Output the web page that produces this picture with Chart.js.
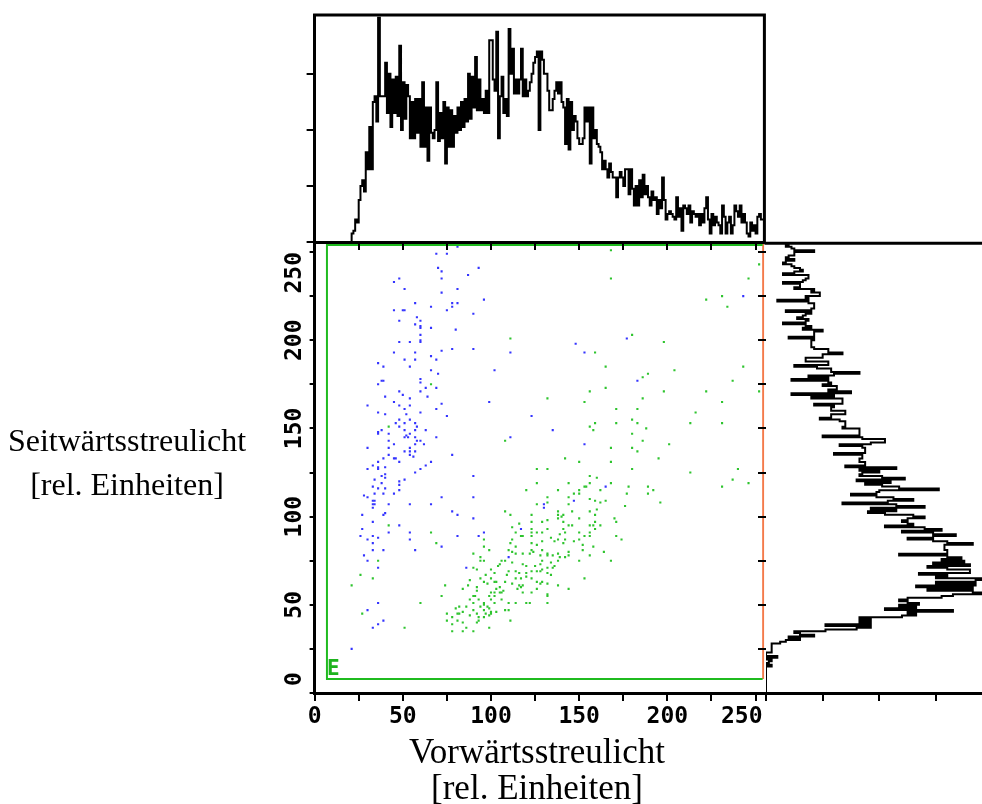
<!DOCTYPE html>
<html><head><meta charset="utf-8">
<script src="https://cdn.jsdelivr.net/npm/chart.js@4.4.1/dist/chart.umd.min.js"></script>
<style>
html,body{margin:0;padding:0;background:#fff;width:982px;height:804px;overflow:hidden;position:relative;}
canvas{position:absolute;left:0;top:0;}
.lbl{position:absolute;font-family:"Liberation Serif","Times New Roman",serif;color:#000;text-align:center;white-space:nowrap;}
#gateLbl{position:absolute;left:327px;top:658px;font-family:"DejaVu Sans Mono",monospace;font-weight:bold;font-size:21px;line-height:21px;color:#1db31d;}
</style></head><body>
<canvas id="main" width="982" height="804"></canvas>
<canvas id="topHist" width="982" height="804"></canvas>
<canvas id="rightHist" width="1010" height="804"></canvas>
<div class="lbl" style="left:0;top:418px;width:254px;font-size:32px;line-height:44px;">Seitwärtsstreulicht<br>[rel. Einheiten]</div>
<div class="lbl" style="left:287px;top:734px;width:500px;font-size:35px;line-height:36px;">Vorwärtsstreulicht<br>[rel. Einheiten]</div>
<div id="gateLbl">E</div>
<script>
// ---------- data ----------
const xTickLabels = ['0','50','100','150','200','250'];
const yTickLabels = ['0','50','100','150','200','250'];
const gateX = [7, 254];
const gateY = [8, 254];

const bluePoints = [
[81,253],[69,249],[75,249],[70,241],[93,241],[72,239],[87,237],[48,235],[72,235],[45,233],[51,229],[81,229],[72,227],[243,225],[96,223],[57,221],[78,221],[81,221],[66,219],[78,219],[45,217],[50,217],[51,217],[75,217],[90,215],[58,213],[48,211],[60,211],[57,209],[60,208],[60,207],[66,207],[80,206],[60,203],[48,199],[54,199],[60,200],[60,199],[177,201],[148,198],[45,193],[57,193],[72,194],[78,195],[90,195],[111,193],[153,193],[66,191],[51,189],[57,189],[69,189],[36,187],[39,185],[54,185],[66,183],[102,183],[70,181],[38,177],[39,177],[60,178],[60,176],[36,175],[183,177],[63,173],[69,173],[48,171],[60,171],[50,169],[40,168],[54,167],[64,168],[45,165],[99,165],[30,163],[48,163],[54,163],[72,164],[51,161],[69,161],[36,159],[40,158],[52,158],[60,159],[75,157],[123,157],[48,155],[54,155],[46,153],[51,153],[57,153],[48,151],[58,151],[38,149],[36,148],[36,147],[51,149],[57,149],[63,149],[135,149],[42,147],[54,147],[51,145],[52,146],[53,145],[57,145],[69,145],[111,145],[42,143],[58,143],[60,143],[45,141],[57,141],[62,141],[153,141],[30,139],[42,139],[54,139],[51,137],[57,137],[54,137],[42,135],[54,135],[56,134],[78,135],[39,133],[45,133],[46,133],[36,131],[48,131],[66,131],
[33,129],[63,129],[30,127],[36,128],[36,127],[40,128],[60,127],[57,125],[40,124],[38,123],[40,122],[90,123],[34,121],[48,120],[51,121],[48,118],[38,119],[33,117],[36,116],[40,116],[165,117],[48,115],[34,113],[39,113],[45,113],[28,112],[30,111],[72,111],[90,111],[33,109],[34,109],[33,107],[34,107],[42,107],[54,107],[66,107],[130,107],[147,109],[33,105],[130,105],[78,103],[27,101],[39,101],[40,102],[81,101],[90,99],[33,97],[48,95],[117,93],[27,93],[42,91],[54,91],[96,91],[26,89],[33,89],[36,88],[81,89],[93,89],[30,87],[54,87],[33,85],[72,83],[33,81],[39,81],[57,81],[28,78],[30,75],[36,71],[110,77],[86,71],[36,51],[30,47],[39,41],[36,39],[33,37],[21,25]
];

const greenPoints = [
[168,251],[168,235],[246,235],[252,243],[231,225],[222,223],[234,219],[111,201],[180,203],[198,199],[159,193],[165,185],[204,183],[243,185],[189,181],[186,179],[237,177],[66,175],[165,173],[156,171],[198,171],[222,171],[252,171],[132,167],[186,167],[153,165],[231,165],[171,161],[183,161],[216,159],[180,155],[159,153],[171,153],[183,153],[213,153],[231,153],[42,151],[156,151],[188,150],[158,149],[180,147],[108,143],[186,143],[201,141],[168,139],[180,139],[183,137],[142,133],[195,133],[150,131],[168,131],
[126,127],[132,127],[180,127],[240,127],[213,125],[126,119],[144,119],[156,119],[168,119],[237,121],[246,119],[160,122],[156,123],[120,115],[138,115],[150,115],[153,117],[154,117],[162,115],[178,117],[189,117],[192,115],[231,117],[147,113],[150,113],[177,113],[189,113],[132,111],[144,111],[156,110],[159,109],[162,108],[165,109],[126,107],[132,108],[144,107],[196,108],[176,106],[108,103],[138,103],[146,103],[156,103],[160,104],[111,101],[123,101],[138,101],[141,101],[140,100],[159,101],[138,99],[150,99],[132,98],[170,99],[116,96],[123,97],[129,97],[141,97],[159,97],[171,97],[42,95],[112,94],[144,95],[146,95],[156,95],[158,95],[162,95],[123,93],[126,91],[132,93],[141,93],[159,93],[66,91],[114,91],[123,91],[129,91],[139,90],[142,91],[150,91],[156,91],[117,89],[118,89],[123,89],[153,89],[156,89],[171,89],[96,87],[112,87],[129,86],[134,88],[138,87],[142,87],[147,86],[150,87],[174,87],[69,85],[111,85],[123,85],[126,84],[136,86],[141,85],[152,84],[96,83],[114,83],[158,83],[99,81],[110,81],[112,80],[123,81],[129,81],[164,80],[152,81],[36,75],[90,79],[94,77],[96,75],[94,75],[106,75],[108,75],[114,79],[118,79],[124,80],[122,79],[128,78],[132,79],[132,78],[135,78],[138,79],[138,75],[139,77],[142,77],[144,80],[144,78],[150,75],[156,78],[168,75],[90,71],[92,70],[100,70],[104,72],[105,73],[112,74],[118,73],[120,72],[125,72],[128,73],[129,75],[134,74],[136,72],[129,70],[132,71],[135,71],[26,67],[33,65],[97,67],[102,68],[110,69],[114,69],[116,68],[120,68],[123,69],[126,69],[132,68],[134,67],[128,69],[153,65],[88,64],[94,65],[100,65],[109,67],[108,63],[114,65],[117,65],[120,66],[123,65],[126,63],[129,63],[132,62],[138,61],[21,61],[74,61],[87,61],[96,63],[98,62],[102,63],[103,63],[112,62],[116,61],[117,60],[118,61],[128,62],[84,59],[92,60],[92,58],[100,57],[102,57],[103,59],[105,60],[106,57],[107,58],[115,59],[118,57],[123,57],[126,59],[144,59],[72,55],[90,55],[91,55],[99,55],[102,55],[105,57],[88,53],[90,51],[93,53],[96,51],[96,50],[100,53],[102,51],[106,53],[110,51],[114,51],[120,51],[122,51],[132,56],[132,55],[132,51],[60,51],[82,49],[80,48],[86,49],[90,47],[94,49],[98,49],[99,48],[96,47],[100,46],[108,47],[110,47],[103,46],[27,45],[75,45],[81,45],[82,45],[84,46],[92,45],[97,45],[100,45],[78,43],[88,44],[93,43],[96,43],[99,44],[75,41],[81,41],[92,40],[93,41],[111,41],[78,39],[84,40],[51,37],[86,37],[99,37],[78,35],[84,35],[90,35]
];

// forward scatter histogram (channels 0..255)
const fscHist = [
0,0,0,0,0,0,0,0,0,0,0,0,0,0,0,0,0,0,0,0,
0,3,4,8,7,15,20,22,18,32,26,41,26,50,52,43,80,52,52,52,
64,46,60,41,58,46,59,45,70,40,57,44,56,52,37,50,37,51,39,51,
34,57,34,48,29,48,39,37,40,57,36,46,37,50,28,48,34,47,34,45,
39,48,40,50,41,51,43,60,44,59,48,66,47,58,47,51,46,54,46,72,
72,58,54,75,37,52,59,46,51,45,76,60,69,53,58,53,58,69,52,58,
52,54,57,60,64,66,68,40,68,65,60,60,54,47,47,51,54,57,53,57,
50,48,35,51,33,50,40,45,43,37,35,35,37,48,43,48,28,48,37,40,
35,34,32,26,29,26,23,28,25,23,23,16,23,25,23,20,26,26,17,26,
19,13,20,13,22,16,24,17,20,16,13,18,15,16,10,15,12,23,15,8,
10,11,10,9,8,16,9,12,4,13,12,10,13,7,11,10,9,10,6,10,
7,12,16,8,3,10,6,9,7,6,3,13,9,3,7,9,3,6,13,11,
9,13,7,10,7,3,2,7,4,6,3,9,10,8,8,8
];

// side scatter histogram (channels 0..255)
const sscHist = [
0,0,0,0,0,0,0,0,0,0,0,0,0,0,0,2,0,1,2,0,
4,0,0,2,2,2,2,2,5,7,12,8,17,12,10,21,32,37,21,37,
33,37,33,48,53,50,66,42,53,47,54,50,47,50,62,66,76,73,57,73,
53,74,60,74,76,60,64,54,72,72,64,57,72,59,70,62,69,64,47,64,
64,63,63,63,73,64,59,50,59,67,59,48,62,56,42,52,50,48,50,56,
52,42,36,46,37,56,46,27,43,52,45,39,30,39,40,61,47,41,35,44,
32,49,41,33,34,40,33,46,28,35,35,33,33,34,34,24,35,35,35,34,
26,37,42,42,34,20,33,33,33,33,27,28,28,28,26,19,23,23,28,28,
23,23,24,17,27,27,27,16,24,9,30,22,25,25,20,23,22,9,22,15,
24,33,23,23,18,10,22,22,14,14,20,20,27,22,22,17,16,16,16,16,
17,8,17,17,17,20,13,16,14,6,14,15,11,13,14,16,7,16,17,17,
17,15,4,15,14,19,19,16,17,10,12,12,6,13,14,15,15,6,10,13,
12,10,9,6,7,10,7,8,10,10,17,10,9,7,8,7
];

// ---------- rendering ----------
Chart.defaults.animation = false;
Chart.defaults.font.family = '"DejaVu Sans Mono", monospace';

const tickFont = {family:'"DejaVu Sans Mono", monospace', weight:'bold', size:23};

const framePlugin = {
  id: 'frame',
  afterDatasetsDraw(chart, args, o) {
    const {ctx, chartArea: a} = chart;
    ctx.save();
    ctx.strokeStyle = '#000';
    ctx.lineWidth = 3;
    ctx.beginPath();
    if (o.top) { ctx.moveTo(a.left - 1.5, a.top); ctx.lineTo(o.extend ? chart.width : a.right + 1.5, a.top); }
    if (o.right) { ctx.moveTo(a.right, a.top - 1.5); ctx.lineTo(a.right, a.bottom + 1.5); }
    ctx.stroke();
    ctx.restore();
  }
};

const common = {
  responsive: false,
  devicePixelRatio: 1,
  animation: false,
  events: [],
  plugins: {legend: {display: false}, tooltip: {enabled: false}}
};

// main scatter
new Chart(document.getElementById('main'), {
  type: 'scatter',
  data: {
    datasets: [
      {data: [{x:gateX[1],y:gateY[0]},{x:gateX[0],y:gateY[0]},{x:gateX[0],y:gateY[1]},{x:gateX[1],y:gateY[1]}],
       showLine: true, borderColor: '#1fbb1f', borderWidth: 2, pointRadius: 0, tension: 0, fill: false},
      {data: [{x:gateX[1]+0.3,y:gateY[0]},{x:gateX[1]+0.3,y:gateY[1]+1}],
       showLine: true, borderColor: '#f47a4a', borderWidth: 2, pointRadius: 0, tension: 0, fill: false},
      {data: bluePoints.map(p => ({x:p[0], y:p[1]})), backgroundColor: '#3434ff', pointStyle: 'rect', pointRadius: 1.5, borderWidth: 0},
      {data: greenPoints.map(p => ({x:p[0], y:p[1]})), backgroundColor: '#2ec42e', pointStyle: 'rect', pointRadius: 1.5, borderWidth: 0}
    ]
  },
  options: Object.assign({}, common, {
    layout: {padding: {left: 274.6, right: 217.6, top: 243.2, bottom: 71}},
    scales: {
      x: {
        type: 'linear', min: 0, max: 255,
        afterFit: s => { s.height = 40; },
        ticks: {stepSize: 25, includeBounds: false, autoSkip: false, maxRotation: 0, minRotation: 0, padding: 2,
                color: '#000', font: tickFont,
                callback: v => { if (v % 50 !== 0) return ''; const t = xTickLabels[v/50]; return v === 250 ? t + '  ' : t; }},
        grid: {drawOnChartArea: false, drawTicks: true, tickLength: 8, tickWidth: 2, tickColor: '#000', lineWidth: 2, color: '#000'},
        border: {display: true, color: '#000', width: 3}
      },
      y: {
        type: 'linear', min: 0, max: 255,
        afterFit: s => { s.width = 40; },
        ticks: {stepSize: 25, includeBounds: false, autoSkip: false, minRotation: 90, maxRotation: 90, crossAlign: 'center', padding: -27,
                color: '#000', font: tickFont,
                callback: v => { if (v % 50 !== 0) return ''; const t = yTickLabels[v/50]; if (v === 0) return '  ' + t; if (v === 250) return t + '   '; return t; }},
        grid: {drawOnChartArea: false, drawTicks: true, tickLength: 5, tickWidth: 2, tickColor: '#000', lineWidth: 2, color: '#000'},
        border: {display: true, color: '#000', width: 3}
      }
    }
  })
});

// top histogram (forward scatter)
const topSteps = [];
fscHist.forEach((v, i) => { topSteps.push({x: i, y: v}, {x: i + 1, y: v}); });
new Chart(document.getElementById('topHist'), {
  type: 'scatter',
  data: {datasets: [{data: topSteps, showLine: true, borderColor: '#000', borderWidth: 2, pointRadius: 0, tension: 0, fill: false}]},
  options: Object.assign({}, common, {
    layout: {padding: {left: 294.6, right: 217.6, top: 15, bottom: 542}},
    plugins: {legend: {display: false}, tooltip: {enabled: false}, frame: {top: true, right: true, extend: false}},
    scales: {
      x: {type: 'linear', min: 0, max: 255, afterFit: s => { s.height = 20; },
          ticks: {stepSize: 25, includeBounds: false, autoSkip: false, callback: () => ''},
          grid: {drawOnChartArea: false, drawTicks: true, tickLength: 8, tickWidth: 2, tickColor: '#000', lineWidth: 2, color: '#000'},
          border: {display: true, color: '#000', width: 3}},
      y: {type: 'linear', min: 0, max: 81, afterFit: s => { s.width = 20; },
          afterBuildTicks: s => { s.ticks = s.ticks.filter(t => t.value <= 60); },
          ticks: {stepSize: 20, includeBounds: false, autoSkip: false, callback: () => ''},
          grid: {drawOnChartArea: false, drawTicks: true, tickLength: 8, tickWidth: 2, tickColor: '#000', lineWidth: 2, color: '#000'},
          border: {display: true, color: '#000', width: 3}}
    }
  }),
  plugins: [framePlugin]
});

// right histogram (side scatter)
const rightSteps = [];
sscHist.forEach((v, j) => { rightSteps.push({x: v, y: j}, {x: v, y: j + 1}); });
new Chart(document.getElementById('rightHist'), {
  type: 'scatter',
  data: {datasets: [{data: rightSteps, showLine: true, borderColor: '#000', borderWidth: 2, pointRadius: 0, tension: 0, fill: false}]},
  options: Object.assign({}, common, {
    layout: {padding: {left: 746, right: 17.4, top: 243.2, bottom: 91}},
    plugins: {legend: {display: false}, tooltip: {enabled: false}, frame: {top: true, right: false, extend: true}},
    scales: {
      x: {type: 'linear', min: 0, max: 80, afterFit: s => { s.height = 20; },
          ticks: {stepSize: 20, includeBounds: false, autoSkip: false, callback: () => ''},
          grid: {drawOnChartArea: false, drawTicks: true, tickLength: 8, tickWidth: 2, tickColor: '#000', lineWidth: 2, color: '#000'},
          border: {display: true, color: '#000', width: 3}},
      y: {type: 'linear', min: 0, max: 255, afterFit: s => { s.width = 20; },
          ticks: {stepSize: 25, includeBounds: false, autoSkip: false, callback: () => ''},
          grid: {drawOnChartArea: false, drawTicks: true, tickLength: 8, tickWidth: 2, tickColor: '#000', lineWidth: 2, color: '#000'},
          border: {display: false}}
    }
  }),
  plugins: [framePlugin]
});
</script>
</body></html>
